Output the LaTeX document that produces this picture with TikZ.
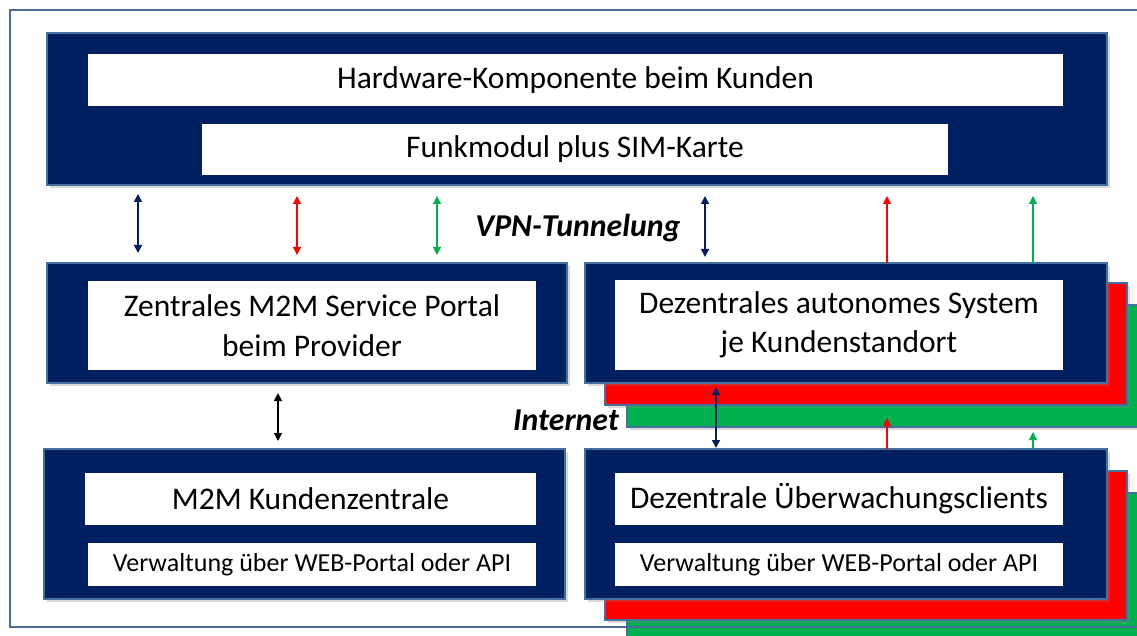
\documentclass[tikz,border=0pt]{standalone}
\usepackage{fontspec}
\setmainfont{Carlito}
\usetikzlibrary{arrows.meta,calc,shadows}
\definecolor{navy}{HTML}{002060}
\definecolor{bord}{HTML}{41719C}
\definecolor{frm}{HTML}{4A6C96}
\definecolor{rd}{HTML}{FF0000}
\definecolor{gn}{HTML}{00B050}
\begin{document}
\begin{tikzpicture}[x=1pt,y=-1pt,
  shbox/.style={draw=bord, line width=1.5pt, inner sep=0pt, outer sep=0pt, anchor=north west,
    drop shadow={opacity=0.3, shadow xshift=3pt, shadow yshift=-3pt}},
  navybox/.style={shbox, fill=navy},
  redbox/.style={shbox, fill=rd},
  greenbox/.style={shbox, fill=gn},
  wbox/.style={fill=white, inner sep=0pt, outer sep=0pt, anchor=north west, align=center, text=black},
  bigtxt/.style={font=\fontsize{31.5}{39.5}\selectfont},
  smalltxt/.style={font=\fontsize{26}{30}\selectfont},
  lbl/.style={font=\fontsize{31.8}{34}\selectfont\bfseries\itshape, text=black},
  arr/.style={line width=1.6pt, {Triangle[width=8pt,length=8pt]}-{Triangle[width=8pt,length=8pt]}},
  uparr/.style={line width=1.2pt, -{Triangle[width=8pt,length=8pt]}}
]
\useasboundingbox (0,0) rectangle (1137,636);
\clip (0,0) rectangle (1137,636);

% stacked background boxes
\node[greenbox, minimum width=530pt, minimum height=122pt] (g1) at (627,305) {};
\node[redbox, minimum width=522pt, minimum height=122pt] (r1) at (605,283) {};
\node[greenbox, minimum width=530pt, minimum height=150pt] (g2) at (627,493) {};
\node[redbox, minimum width=522pt, minimum height=149pt] (r2) at (605,471) {};

% main boxes
\node[navybox, minimum width=1060pt, minimum height=152pt] (top) at (47,33) {};
\node[wbox, bigtxt, minimum width=975pt, minimum height=52pt] (hw) at (88,54) {Hardware-Komponente beim Kunden};
\node[wbox, bigtxt, minimum width=746pt, minimum height=51pt] (fm) at (202,124) {Funkmodul plus SIM-Karte};

\node[navybox, minimum width=520pt, minimum height=120pt] (zent) at (47,263) {};
\node[wbox, bigtxt, minimum width=448pt, minimum height=89pt] (zt) at (88,281) {Zentrales M2M Service Portal\\beim Provider};

\node[navybox, minimum width=522pt, minimum height=120pt] (dez) at (585,263) {};
\node[wbox, bigtxt, minimum width=448pt, minimum height=90pt] (dt) at (615,280) {Dezentrales autonomes System\\je Kundenstandort};

\node[navybox, minimum width=521pt, minimum height=150pt] (kz) at (44,449) {};
\node[wbox, bigtxt, minimum width=451pt, minimum height=52pt] (kzt) at (85,473) {M2M Kundenzentrale};
\node[wbox, smalltxt, minimum width=448pt, minimum height=43pt] (kzv) at (88,543) {Verwaltung über WEB-Portal oder API};

\node[navybox, minimum width=522pt, minimum height=150pt] (ue) at (585,449) {};
\node[wbox, bigtxt, minimum width=448pt, minimum height=52pt] (uet) at (615,473) {Dezentrale Überwachungsclients};
\node[wbox, smalltxt, minimum width=448pt, minimum height=43pt] (uev) at (615,543) {Verwaltung über WEB-Portal oder API};

% labels
\node[lbl] (vpn) at (578,228) {VPN-Tunnelung};
\node[lbl] (inet) at (566,420) {Internet};

% x positions
\coordinate (x1) at (138,0);
\coordinate (x2) at (297,0);
\coordinate (x3) at (437,0);
\coordinate (x4) at (705,0);
\coordinate (x5) at (887,0);
\coordinate (x6) at (1033,0);
\coordinate (x7) at (278,0);
\coordinate (x8) at (716,0);
\coordinate (rtip) at (887,418);
\coordinate (gtip) at (1033,432);

% arrows top -> middle
\draw[arr, navy] ($(top.south -| x1)+(0,9)$) -- ($(zent.north -| x1)+(0,-10)$);
\draw[arr, rd, line width=1.3pt] ($(top.south -| x2)+(0,11)$) -- ($(zent.north -| x2)+(0,-8)$);
\draw[arr, gn, line width=1.3pt] ($(top.south -| x3)+(0,11)$) -- ($(zent.north -| x3)+(0,-8)$);
\draw[arr, navy] ($(top.south -| x4)+(0,11)$) -- ($(dez.north -| x4)+(0,-6)$);
\draw[uparr, rd] (dez.north -| x5) -- ($(top.south -| x5)+(0,11)$);
\draw[uparr, gn] (dez.north -| x6) -- ($(top.south -| x6)+(0,11)$);

% arrows middle -> bottom
\draw[arr, black] ($(zent.south -| x7)+(0,10)$) -- ($(kz.north -| x7)+(0,-8)$);
\draw[arr, navy] ($(dez.south -| x8)+(0,4)$) -- ($(ue.north -| x8)+(0,-1)$);
\draw[uparr, rd] (ue.north -| x5) -- (rtip);
\draw[uparr, gn] (ue.north -| x6) -- (gtip);

% outer frame
\draw[frm, line width=2.5pt] (10,10) rectangle (1160,627);
\end{tikzpicture}
\end{document}
